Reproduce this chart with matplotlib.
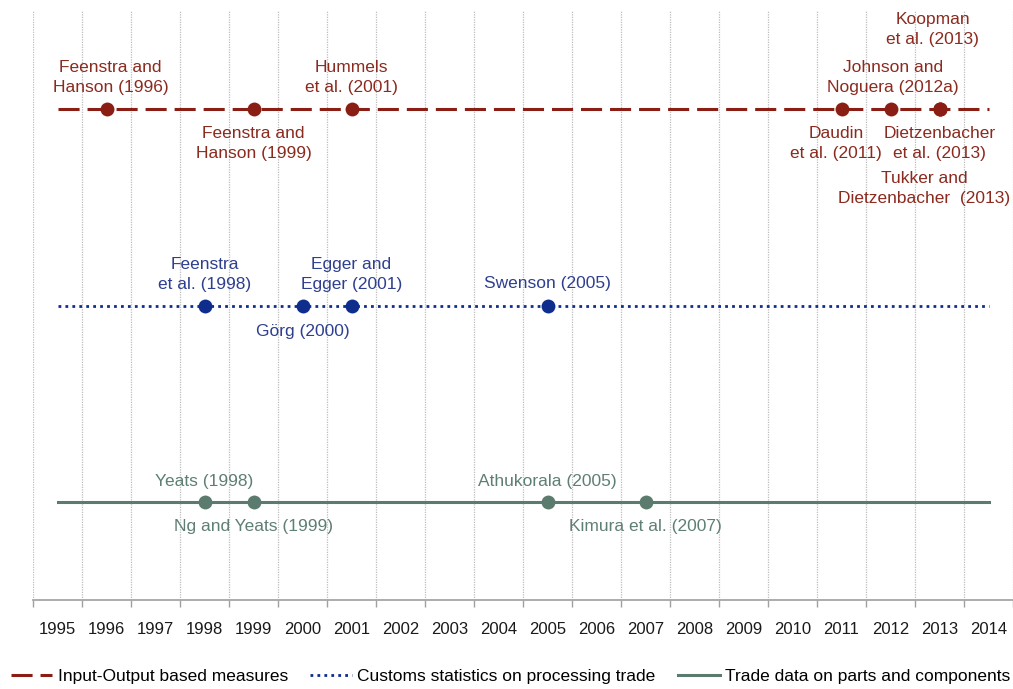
import matplotlib
matplotlib.use("Agg")
import matplotlib.pyplot as plt
from matplotlib.lines import Line2D

plt.rcParams['font.family'] = ['Liberation Sans', 'DejaVu Sans']

# ---------------- data ----------------
years = list(range(1995, 2015))
series_names = ["Input-Output based measures",
                "Customs statistics on processing trade",
                "Trade data on parts and components"]

io_labels = ["Feenstra and\nHanson (1996)", "Feenstra and\nHanson (1999)",
             "Hummels\net al. (2001)", "Daudin\net al. (2011)",
             "Johnson and\nNoguera (2012a)", "Koopman\net al. (2013)",
             "Dietzenbacher\net al. (2013)", "Tukker and\nDietzenbacher  (2013)"]
io_years = [1996, 1999, 2001, 2011, 2012, 2013, 2013, 2013]

cs_labels = ["Feenstra\net al. (1998)", "Görg (2000)",
             "Egger and\nEgger (2001)", "Swenson (2005)"]
cs_years = [1998, 2000, 2001, 2005]

pc_labels = ["Yeats (1998)", "Ng and Yeats (1999)",
             "Athukorala (2005)", "Kimura et al. (2007)"]
pc_years = [1998, 1999, 2005, 2007]

# ---------------- layout / style ----------------
lanes = [5, 3, 1]
colors = ["#8B1E14", "#0F2D8C", "#5B7B6E"]
text_colors = ["#8B2A1E", "#2E3F8F", "#5E7F74"]
# label offsets in points: (dx, dy, vertical alignment)
io_off = [(3, 10, 'bottom'), (0, -12, 'top'), (0, 10, 'bottom'), (-4, -12, 'top'),
          (2, 10, 'bottom'), (-5, 45, 'bottom'), (0, -12, 'top'), (-11, -44.5, 'top')]
cs_off = [(0, 10, 'bottom'), (0, -13, 'top'), (0, 10, 'bottom'), (0, 10.5, 'bottom')]
pc_off = [(0, 9.5, 'bottom'), (0, -12.5, 'top'), (0, 9.5, 'bottom'), (0, -12.5, 'top')]

fig = plt.figure(figsize=(10.13, 6.89), dpi=100)
ax = fig.add_axes([33 / 1013, 1 - 600 / 689, 1 - 33 / 1013, (600 - 11) / 689])

xpos = {y: i for i, y in enumerate(years)}

line_styles = [dict(linestyle=(0, (6.9, 2.6)), lw=2.2),
               dict(linestyle=(0, (1.0, 1.5)), lw=2.0, dash_capstyle='butt'),
               dict(linestyle='-', lw=2.2)]

groups = [(io_labels, io_years, io_off), (cs_labels, cs_years, cs_off),
          (pc_labels, pc_years, pc_off)]

for k, (labels, yrs, offs) in enumerate(groups):
    lane = lanes[k]
    xs = [xpos[y] for y in years]
    ax.plot(xs, [lane] * len(xs), color=colors[k], zorder=2, **line_styles[k])
    px = [xpos[y] for y in yrs]
    ax.plot(px, [lane] * len(px), 'o', color=colors[k], ms=10, zorder=3,
            markeredgewidth=0)
    for lab, yr, (dx, dy, va) in zip(labels, yrs, offs):
        ax.annotate(lab, (xpos[yr], lane), xytext=(dx, dy),
                    textcoords='offset points', ha='center', va=va,
                    fontsize=12.5, color=text_colors[k], linespacing=1.4,
                    multialignment='center', zorder=4)

ax.set_xlim(-0.5, len(years) - 0.5)
ax.set_ylim(0, 6)
ax.set_yticks([])
ax.set_xticks(range(len(years)))
ax.set_xticklabels([str(y) for y in years], fontsize=12, color="#1a1a1a")
ax.set_xticks([i - 0.5 for i in range(len(years) + 1)], minor=True)
ax.tick_params(axis='x', which='major', length=0, pad=16)
ax.tick_params(axis='x', which='minor', length=5, color='#a0a0a0', width=1)
ax.grid(axis='x', which='minor', linestyle=(0, (1, 1)), color='#bdbdbd', lw=0.9)
for s in ['top', 'right', 'left']:
    ax.spines[s].set_visible(False)
ax.spines['bottom'].set_color('#a6a6a6')
ax.spines['bottom'].set_linewidth(1.3)

handles = [Line2D([], [], color=colors[k], **line_styles[k]) for k in range(3)]
fig.legend(handles, series_names, loc='center', bbox_to_anchor=(0.504, 0.018),
           ncol=3, frameon=False, fontsize=12.5, handlelength=2.4,
           handletextpad=0.3, columnspacing=1.3, borderaxespad=0)

fig.savefig("out.png", dpi=100)
